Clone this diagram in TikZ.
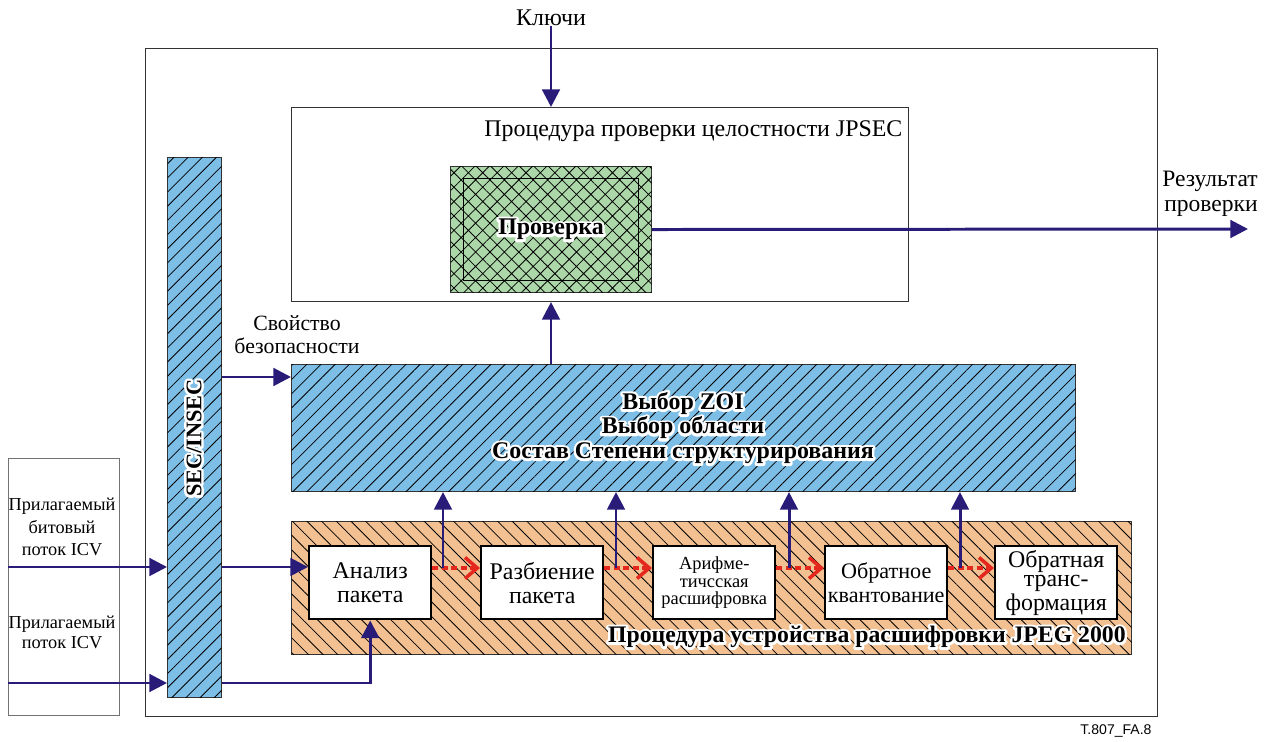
\documentclass[tikz,border=0pt]{standalone}
\usepackage{fontspec}
\setmainfont{Liberation Serif}
\newfontfamily\tagfont{Liberation Sans}
\usetikzlibrary{arrows.meta,patterns.meta}

\definecolor{flowblue}{RGB}{40,28,120}
\definecolor{secblue}{RGB}{125,190,230}
\definecolor{decorange}{RGB}{242,192,145}
\definecolor{chkgreen}{RGB}{172,215,168}
\definecolor{datared}{RGB}{228,40,30}

% bold labels on hatching get a white outline (stroked copy underneath)
\newcommand{\halo}[1]{\leavevmode\rlap{\textcolor{white}{\special{pdf:literal direct 2 Tr 2.8 w 1 j}#1\special{pdf:literal direct 0 Tr}}}#1}

\tikzset{
  sized/.style 2 args={minimum width=#1*0.02cm, minimum height=#2*0.02cm, inner sep=0pt},
  frame/.style={draw=black!80, line width=0.6pt, anchor=north west},
  flow/.style={draw=flowblue, line width=1.7pt, -{Triangle[length=10pt,width=10pt]}},
  redflow/.style={draw=datared, line width=2pt, dash pattern=on 3.2pt off 2.2pt,
    -{Straight Barb[length=7pt,width=12pt,line width=2pt]}},
  bluehatch/.style={frame, fill=secblue,
    postaction={pattern={Lines[angle=45,distance=5.7pt,line width=0.45pt]}}},
  orangehatch/.style={frame, fill=decorange,
    postaction={pattern={Lines[angle=-45,distance=5.9pt,line width=0.45pt]}}},
  greenhatch/.style={frame, fill=chkgreen,
    postaction={pattern={Hatch[angle=45,distance=5.8pt,line width=0.45pt]}}},
  stage/.style={draw=black, line width=1.4pt, fill=white, anchor=north west,
    sized={122}{73}, align=center, font=\fontsize{13.6}{13.6}\selectfont},
  txt/.style={align=center, font=\fontsize{13.6}{15}\selectfont, inner sep=0pt},
}

\begin{document}
\begin{tikzpicture}[x=0.02cm, y=-0.02cm]
\useasboundingbox (0,0) rectangle (1272,742);

% outer frame and the stream box on the left
\node[frame, sized={1012}{668}] (frame) at (145,48) {};
\node[frame, draw=black!55, sized={111}{257}] (icv) at (8,458) {};
\node[txt, font=\fontsize{10.4}{12.7}\selectfont] (bitstream) at (62,527) {Прилагаемый\\битовый\\поток ICV};
\node[txt, font=\fontsize{10.4}{11.5}\selectfont] (icvstream) at (62,632) {Прилагаемый\\поток ICV};

% integrity check
\node[frame, sized={617}{194}] (jpsec) at (291,107) {};
\node[txt, anchor=west] (jpsectitle) at (484,131) {Процедура проверки целостности JPSEC};
\node[greenhatch, sized={201}{126}] (check) at (450,166) {};
\node[draw=black, line width=0.9pt, sized={175}{102}, font=\fontsize{13.6}{14}\selectfont\bfseries]
  (checkin) at (check.center) {\halo{Проверка}};

\node[txt] (keys) at (551,18) {Ключи};
\node[txt, align=right, anchor=east, font=\fontsize{13.4}{14.2}\selectfont] (result) at (1258,194) {Результат\\проверки};
\coordinate (out) at (1248,229);

% SEC/INSEC bar
\node[bluehatch, sized={54}{540}] (secbar) at (167,157) {};
\node[rotate=90, font=\fontsize{12.7}{14}\selectfont\bfseries] (sectxt) at (194,438) {\halo{SEC/INSEC}};
\node[txt, font=\fontsize{12.4}{13}\selectfont] (prop) at (297,335) {Свойство\\безопасности};

% ZOI selection
\node[bluehatch, sized={784}{127}] (zoi) at (291,364) {};
\node[txt, font=\fontsize{13.6}{14}\selectfont\bfseries] (zoitxt) at (683,428)
  {\halo{Выбор ZOI}\\\halo{Выбор области}\\\halo{Состав Степени структурирования}};

% JPEG 2000 decoder
\node[orangehatch, sized={840}{133}] (jpeg) at (291,521) {};
\node[txt, anchor=east, font=\fontsize{13.5}{14}\selectfont\bfseries] (jpegtxt) at (1126,637)
  {\halo{Процедура устройства расшифровки JPEG 2000}};

\node[stage] (parse) at (308,545) {Анализ\\пакета};
\node[stage] (split) at (480,545) {Разбиение\\пакета};
\node[stage, font=\fontsize{10.5}{9.9}\selectfont] (arith) at (652,545) {Арифме-\\тичсская\\расшифровка};
\node[stage, font=\fontsize{12.6}{13.6}\selectfont] (dequant) at (824,545) {Обратное\\квантование};
\node[stage, font=\fontsize{13.6}{11.2}\selectfont] (itrans) at (994,545) {Обратная\\транс-\\формация};

% connectors
\draw[flow] (keys.south) -- (keys.south |- jpsec.north);
\draw[flow] (check.east) -- (out);
\draw[flow] (keys |- zoi.north) -- (keys |- jpsec.south);
\draw[flow] (secbar.east |- 0,377) -- (zoi.west |- 0,377);
\draw[flow] (icv.west |- 0,567) -- (secbar.west |- 0,567);
\draw[flow] (icv.west |- 0,683) -- (secbar.west |- 0,683);
\draw[flow] (secbar.east |- 0,567) -- (parse.west |- 0,567);
\draw[flow] (secbar.east |- 0,683) -| (parse.south);

\foreach \a/\b in {parse/split, split/arith, arith/dequant, dequant/itrans}
  \draw[redflow] (\a.east |- 0,568) -- (\b.west |- 0,568);
\foreach \x in {443,616,789,960}
  \draw[flow] (\x,568) -- (\x,568 |- zoi.south);

\node[font=\tagfont\fontsize{8}{9}\selectfont] (tag) at (1116,731) {T.807\_FA.8};
\end{tikzpicture}
\end{document}
